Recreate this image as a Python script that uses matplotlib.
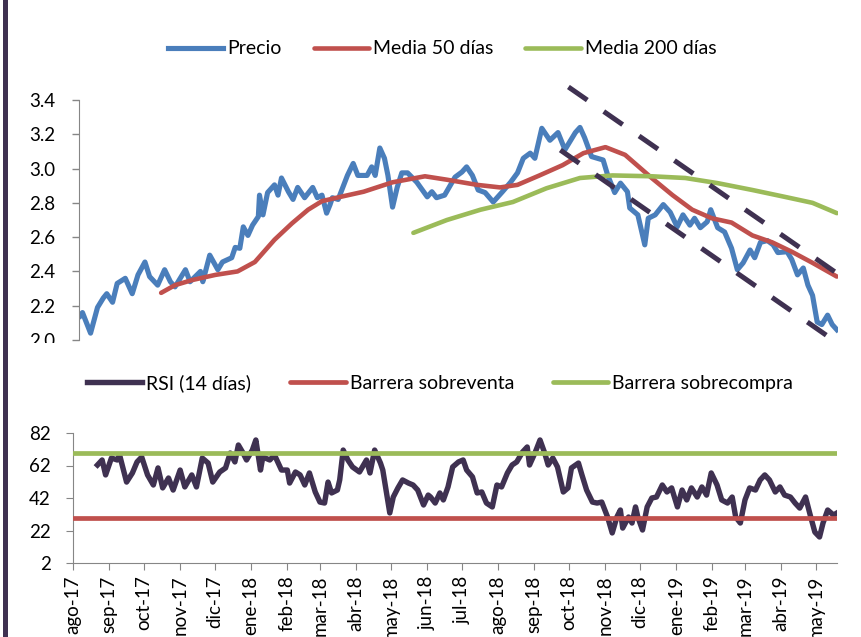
import numpy as np
import pandas as pd
import matplotlib
matplotlib.use('Agg')
from matplotlib import pyplot as plt
from matplotlib.patches import Rectangle

plt.rcParams['font.family'] = ['Lato', 'DejaVu Sans']

start = pd.Timestamp('2017-08-01')

# precio (dias desde 1-ago-17, valor)
precio_dia = [1, 3, 10, 16, 21, 24, 29, 33, 40, 46, 51, 57, 61, 68, 74, 79, 83, 92, 96, 105,
              107, 113, 120, 124, 132, 135, 139, 142, 146, 150, 155, 156, 159, 163, 169, 172, 175, 181, 185, 189,
              195, 202, 206, 210, 214, 217, 219, 224, 232, 237, 241, 249, 253, 256, 260, 264, 267, 271, 275, 279,
              284, 292, 301, 305, 309, 316, 325, 331, 335, 340, 345, 351, 358, 366, 373, 379, 384, 390, 394, 400,
              407, 414, 420, 429, 433, 437, 443, 453, 457, 463, 468, 474, 476, 483, 489, 492, 498, 505, 511, 517,
              522, 528, 532, 537, 543, 546, 552, 558, 564, 569, 574, 580, 584, 589, 595, 600, 604, 612, 616, 621,
              626, 630, 634, 638, 642, 647, 651, 655]
precio = [2.14, 2.16, 2.04, 2.19, 2.245, 2.27, 2.22, 2.33, 2.36, 2.27, 2.38, 2.455, 2.37, 2.32, 2.41, 2.34, 2.31, 2.41, 2.34, 2.40,
          2.34, 2.495, 2.41, 2.455, 2.48, 2.54, 2.535, 2.66, 2.61, 2.67, 2.72, 2.845, 2.73, 2.86, 2.905, 2.845, 2.945, 2.865, 2.82, 2.89,
          2.83, 2.89, 2.83, 2.845, 2.74, 2.79, 2.83, 2.82, 2.96, 3.03, 2.96, 2.96, 3.01, 2.96, 3.12, 3.06, 2.96, 2.775, 2.89, 2.975,
          2.975, 2.92, 2.835, 2.865, 2.83, 2.845, 2.95, 2.98, 3.01, 2.96, 2.875, 2.86, 2.805, 2.865, 2.92, 2.975, 3.06, 3.09, 3.06, 3.235,
          3.165, 3.21, 3.11, 3.21, 3.24, 3.18, 3.07, 3.05, 2.96, 2.86, 2.915, 2.865, 2.77, 2.73, 2.555, 2.71, 2.73, 2.79, 2.745, 2.66,
          2.73, 2.67, 2.71, 2.655, 2.69, 2.76, 2.655, 2.63, 2.535, 2.41, 2.45, 2.525, 2.48, 2.57, 2.58, 2.555, 2.51, 2.515, 2.47, 2.38,
          2.42, 2.32, 2.26, 2.105, 2.09, 2.145, 2.09, 2.06]

media50_dia = [71, 83, 98, 118, 137, 152, 169, 184, 198, 210, 226, 246, 271, 299, 318, 344, 364,
               379, 398, 418, 436, 455, 472, 495, 513, 530, 547, 564, 582, 599, 616, 634, 655]
media50 = [2.275, 2.32, 2.35, 2.38, 2.40, 2.455, 2.585, 2.68, 2.76, 2.81, 2.835, 2.865, 2.92, 2.955, 2.935, 2.905, 2.89,
           2.905, 2.96, 3.02, 3.09, 3.125, 3.08, 2.945, 2.845, 2.76, 2.71, 2.685, 2.61, 2.57, 2.515, 2.45, 2.37]

media200_dia = [289, 318, 347, 375, 404, 433, 461, 495, 524, 552, 582, 610, 634, 655]
media200 = [2.625, 2.70, 2.76, 2.805, 2.885, 2.945, 2.96, 2.955, 2.945, 2.915, 2.875, 2.835, 2.80, 2.74]

# canal bajista (dia, valor)
canal_sup_dia = [423, 666]
canal_sup = [3.476, 2.338]
canal_inf_dia = [416, 658]
canal_inf = [3.108, 1.971]

rsi_dia = [21, 25, 28, 33, 38, 40, 46, 51, 55, 59, 64, 69, 73, 77, 82, 86, 92, 96, 102, 106,
           111, 116, 120, 126, 131, 135, 139, 142, 146, 149, 154, 157, 161, 163, 169, 173, 179, 184, 186, 191,
           195, 199, 203, 208, 212, 216, 219, 222, 227, 229, 232, 236, 240, 246, 252, 255, 259, 264, 266, 272,
           275, 279, 283, 288, 292, 296, 301, 305, 307, 311, 315, 318, 322, 326, 331, 335, 338, 343, 347, 351,
           355, 360, 364, 368, 373, 377, 381, 386, 390, 392, 397, 401, 405, 408, 412, 416, 421, 425, 428, 434,
           437, 441, 446, 450, 454, 459, 463, 467, 470, 472, 477, 480, 483, 485, 489, 493, 497, 501, 506, 510,
           514, 519, 523, 527, 531, 536, 540, 544, 548, 553, 557, 562, 566, 569, 573, 577, 581, 586, 590, 594,
           598, 603, 607, 611, 616, 620, 624, 629, 633, 637, 641, 644, 648, 653, 656]
rsi = [62.3, 65.4, 56.2, 66.6, 65.4, 68.5, 51.8, 57.4, 64.2, 67.2, 56.2, 50.0, 60.5, 48.2, 54.3, 46.9, 59.2, 48.8, 56.2, 48.8,
       66.6, 63.5, 51.8, 58.0, 60.5, 69.7, 64.2, 74.6, 69.7, 65.4, 71.5, 77.7, 59.2, 67.2, 65.4, 68.5, 59.2, 59.2, 51.2, 58.0,
       56.2, 50.0, 57.4, 45.7, 39.5, 38.9, 51.8, 45.1, 46.9, 53.1, 71.5, 65.4, 61.1, 58.0, 65.4, 57.4, 71.5, 63.5, 59.2, 32.8,
       42.6, 48.2, 53.1, 51.2, 50.0, 46.9, 37.7, 43.8, 42.6, 38.9, 45.1, 40.8, 48.8, 61.1, 64.2, 65.4, 59.2, 55.0, 45.1, 45.7,
       38.9, 36.5, 50.0, 48.8, 57.4, 62.3, 64.2, 70.3, 73.4, 62.3, 70.3, 77.7, 69.7, 62.3, 66.6, 61.1, 45.7, 48.2, 60.5, 63.5,
       56.2, 46.9, 39.5, 38.9, 39.5, 30.3, 20.5, 30.3, 34.6, 23.5, 30.3, 26.6, 36.5, 30.3, 22.3, 36.5, 42.0, 42.6, 50.0, 45.7,
       48.2, 36.5, 46.9, 40.8, 48.2, 42.6, 48.8, 43.8, 57.4, 50.0, 40.8, 38.9, 42.6, 30.3, 26.6, 40.8, 48.2, 46.9, 53.1, 56.2,
       53.1, 45.7, 48.8, 43.8, 42.6, 38.9, 35.8, 42.6, 31.5, 21.0, 18.0, 26.6, 34.6, 31.5, 32.8]

sobreventa = 30
sobrecompra = 70

meses = ['ago-17', 'sep-17', 'oct-17', 'nov-17', 'dic-17', 'ene-18', 'feb-18', 'mar-18', 'abr-18', 'may-18', 'jun-18',
         'jul-18', 'ago-18', 'sep-18', 'oct-18', 'nov-18', 'dic-18', 'ene-19', 'feb-19', 'mar-19', 'abr-19', 'may-19']
ticks_precio = [2.0, 2.2, 2.4, 2.6, 2.8, 3.0, 3.2, 3.4]
ticks_rsi = [2, 22, 42, 62, 82]

AZUL = '#4a7ebb'
ROJO = '#c0504d'
VERDE = '#9bbb59'
MORADO = '#3f3151'
GRIS = '#868686'


def fechas(dias):
    return start + pd.to_timedelta(dias, unit='D')


W, H = 861, 637
fig = plt.figure(figsize=(W / 100, H / 100), dpi=100)

x0 = start
x1 = start + pd.Timedelta(days=656)

#grafico de precio
ax1 = fig.add_axes([79 / W, 1 - 340 / H, 759 / W, 240 / H])
l_precio, = ax1.plot(fechas(precio_dia), precio, color=AZUL, lw=3.7, solid_joinstyle='round', zorder=2)
l_m50, = ax1.plot(fechas(media50_dia), media50, color=ROJO, lw=3.3, solid_capstyle='round', zorder=3)
l_m200, = ax1.plot(fechas(media200_dia), media200, color=VERDE, lw=3.3, solid_capstyle='round', zorder=3)
for dd, vv in [(canal_sup_dia, canal_sup), (canal_inf_dia, canal_inf)]:
    ln, = ax1.plot(fechas(dd), vv, color=MORADO, lw=3.6, clip_on=False, zorder=4,
                   solid_capstyle='butt', dash_capstyle='butt')
    ln.set_dashes((4.6, 4.0))
ax1.set_xlim(x0, x1)
ax1.set_ylim(2.0, 3.4)
ax1.set_yticks(ticks_precio)
ax1.set_yticklabels([f'{t:.1f}' for t in ticks_precio])
ax1.set_xticks([])
for s in ['top', 'right', 'bottom']:
    ax1.spines[s].set_visible(False)
ax1.spines['left'].set_color(GRIS)
ax1.tick_params(axis='y', direction='out', length=5, width=1, color=GRIS, pad=12, labelsize=13.5)
ax1.patch.set_alpha(0)

#grafico RSI
ax2 = fig.add_axes([73 / W, 1 - 563 / H, 764 / W, 130 / H])
ax2.set_zorder(2)
l_rsi, = ax2.plot(fechas(rsi_dia), rsi, color=MORADO, lw=3.9, solid_joinstyle='round', zorder=2)
l_sv = ax2.axhline(sobreventa, color=ROJO, lw=3.4, solid_capstyle='round', zorder=3)
l_sc = ax2.axhline(sobrecompra, color=VERDE, lw=3.4, solid_capstyle='round', zorder=3)
ax2.set_xlim(x0, x1)
ax2.set_ylim(2, 82)
ax2.set_yticks(ticks_rsi)
ax2.set_xticks(pd.date_range('2017-08-01', periods=len(meses), freq='MS'))
ax2.set_xticklabels(meses, rotation=90)
for s in ['top', 'right']:
    ax2.spines[s].set_visible(False)
for s in ['left', 'bottom']:
    ax2.spines[s].set_color(GRIS)
ax2.tick_params(axis='y', direction='out', length=5, color=GRIS, pad=11, labelsize=13.5)
ax2.tick_params(axis='x', direction='out', length=5, color=GRIS, pad=4, labelsize=13.5)
ax2.patch.set_alpha(0)

#tapa inferior del grafico de precio
tapa = Rectangle((10 / W, 1 - 372 / H), 1, 29 / H, transform=fig.transFigure,
                 facecolor='white', edgecolor='none', zorder=1)
fig.patches.append(tapa)

#borde izquierdo
borde = Rectangle((3 / W, 0), 5 / W, 1, transform=fig.transFigure,
                  facecolor=MORADO, edgecolor='none', zorder=1)
fig.patches.append(borde)

fig.legend([l_precio, l_m50, l_m200], ['Precio', 'Media 50 días', 'Media 200 días'],
           loc='center', bbox_to_anchor=(442 / W, 1 - 49 / H), ncol=3, frameon=False,
           fontsize=14, handlelength=2.85, handletextpad=0.2, columnspacing=1.65)
fig.legend([l_rsi, l_sv, l_sc], ['RSI (14 días)', 'Barrera sobreventa', 'Barrera sobrecompra'],
           loc='center', bbox_to_anchor=(440 / W, 1 - 383 / H), ncol=3, frameon=False,
           fontsize=14, handlelength=2.85, handletextpad=0.2, columnspacing=2.0)

plt.savefig('out.png', dpi=100)
plt.close()
